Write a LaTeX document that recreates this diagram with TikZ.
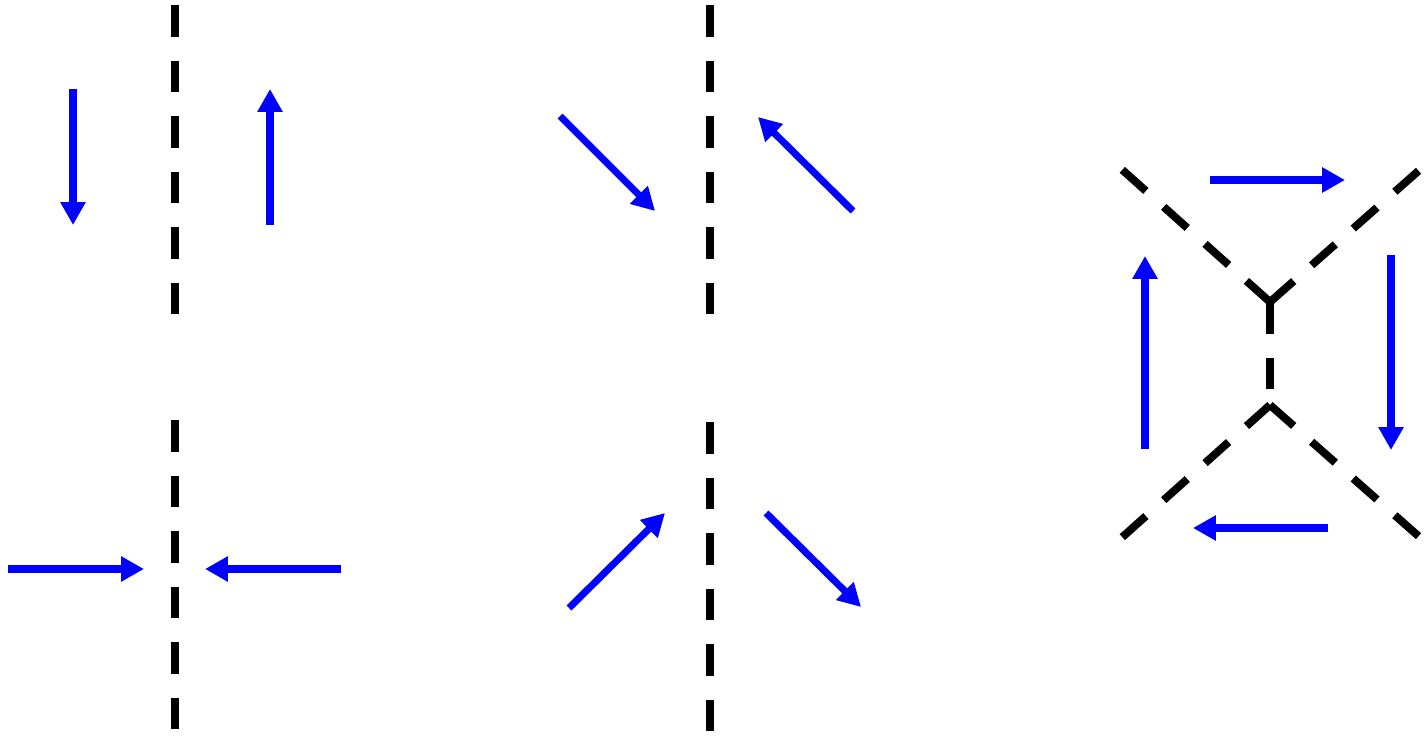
\documentclass[tikz,border=0pt]{standalone}
\usepackage{tikz}
\usetikzlibrary{arrows.meta}

\tikzset{
  wall/.style={line width=4.5pt, dash pattern=on 18pt off 13.6pt},
  spin/.style={blue, line width=4pt, -{Triangle[length=13pt, width=13.6pt]}}
}

\begin{document}
\begin{tikzpicture}[x=0.02cm, y=-0.02cm]
        \useasboundingbox (0,0) rectangle (1424,737);
        % left: the two walls
        \draw[wall] (175,5) -- (175,320);
        \draw[wall] (175,420) -- (175,737);
        \draw[spin] (73,89) -- (73,225);
        \draw[spin] (270,225) -- (270,89);
        \draw[spin] (8,569) -- (144,569);
        \draw[spin] (341,569) -- (205,569);
        % middle: the slanted ones
        \draw[wall] (710,5) -- (710,320);
        \draw[wall] (710,422) -- (710,737);
        \draw[spin] (560,116) -- (655,211);
        \draw[spin] (853,211) -- (758,117);
        \draw[spin] (569,608) -- (665,513);
        \draw[spin] (766,513) -- (861,607);
        % right: the crossing
        \coordinate (yup) at (1270,302);
        \coordinate (ydn) at (1270,405);
        \draw[wall] (yup) -- (1118,166);
        \draw[wall] (yup) -- (1424,166);
        \draw[wall] (yup) -- (ydn);
        \draw[wall] (ydn) -- (1118,541);
        \draw[wall] (ydn) -- (1424,541);
        \draw[spin] (1210,180) -- (1345,180);
        \draw[spin] (1391,255) -- (1391,450);
        \draw[spin] (1328,528) -- (1193,528);
        \draw[spin] (1145,449) -- (1145,256);
\end{tikzpicture}
\end{document}
